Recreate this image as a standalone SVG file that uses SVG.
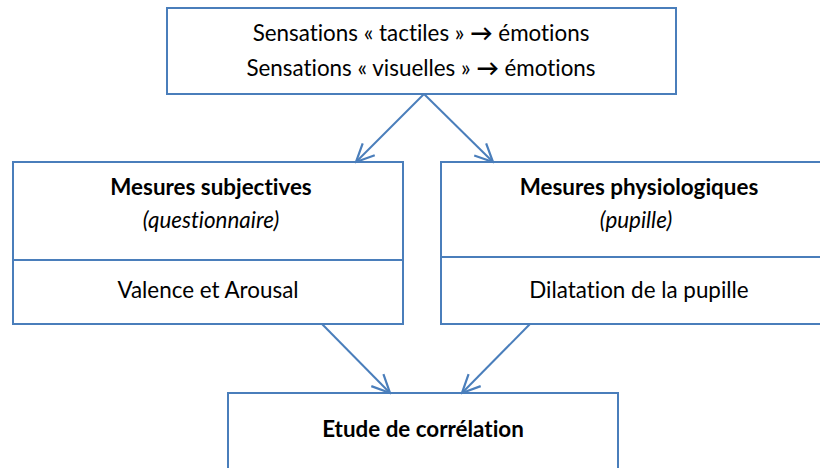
<svg xmlns="http://www.w3.org/2000/svg" width="820" height="468" viewBox="0 0 820 468">
<defs>
<style>
.box{fill:#fff;stroke:#4a7ebb;stroke-width:2}
.ln{stroke:#4a7ebb;stroke-width:2;fill:none}
.t{font-family:Lato,"Open Sans","Liberation Sans",sans-serif;font-size:22.4px;fill:#000;text-anchor:middle;font-variant-ligatures:none}
.b{font-weight:bold}
.i{font-style:italic}
</style>
<marker id="ah" viewBox="0 0 24 24" refX="22" refY="12" markerWidth="24" markerHeight="24" markerUnits="userSpaceOnUse" orient="auto">
<path d="M4,3.5 L22,12 L4,20.5" fill="none" stroke="#4a7ebb" stroke-width="2.2"/>
</marker>
</defs>
<rect width="820" height="468" fill="#fff"/>
<g id="top">
<rect class="box" x="167" y="8" width="509" height="86"/>
<text class="t" x="421" y="41">Sensations « tactiles » <tspan class="b">→</tspan> émotions</text>
<text class="t" x="421" y="76">Sensations « visuelles » <tspan class="b">→</tspan> émotions</text>
</g>
<g id="left">
<rect class="box" x="13" y="162" width="390" height="162"/>
<line class="ln" x1="13" y1="260" x2="403" y2="260"/>
<text class="t b" x="211" y="195">Mesures subjectives</text>
<text class="t i" x="211" y="228">(questionnaire)</text>
<text class="t" x="208" y="298">Valence et Arousal</text>
</g>
<g id="right">
<rect class="box" x="441" y="162" width="390" height="162"/>
<line class="ln" x1="441" y1="257" x2="831" y2="257"/>
<text class="t b" x="639" y="195">Mesures physiologiques</text>
<text class="t i" x="636" y="228">(pupille)</text>
<text class="t" x="639" y="298">Dilatation de la pupille</text>
</g>
<g id="bottom">
<rect class="box" x="228" y="393" width="390" height="90"/>
<text class="t b" x="423" y="437">Etude de corrélation</text>
</g>
<g id="connectors">
<line class="ln" x1="424" y1="94" x2="356" y2="162" marker-end="url(#ah)"/>
<line class="ln" x1="424" y1="94" x2="493" y2="162" marker-end="url(#ah)"/>
<line class="ln" x1="322" y1="324" x2="390" y2="393" marker-end="url(#ah)"/>
<line class="ln" x1="530" y1="324" x2="462" y2="393" marker-end="url(#ah)"/>
</g>
</svg>
